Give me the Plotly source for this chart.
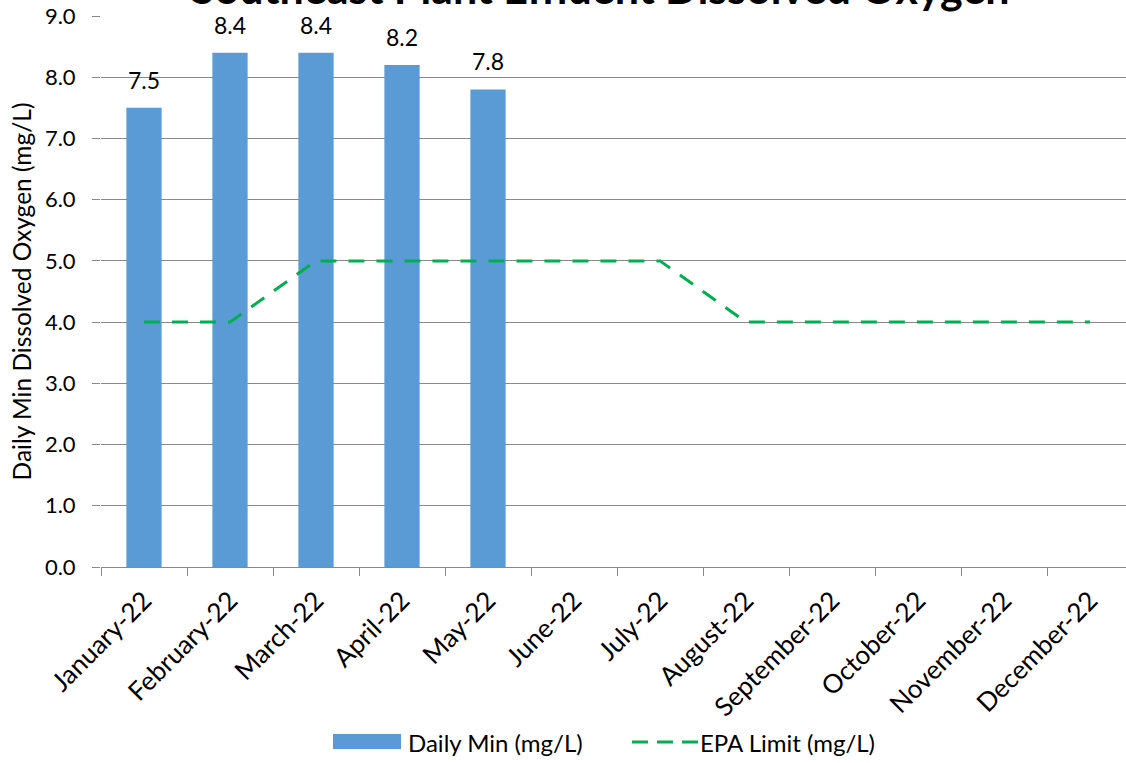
import plotly.graph_objects as go

months = ["January-22", "February-22", "March-22", "April-22", "May-22", "June-22",
          "July-22", "August-22", "September-22", "October-22", "November-22", "December-22"]
daily_min = [7.5, 8.4, 8.4, 8.2, 7.8, None, None, None, None, None, None, None]
epa_limit = [4.0, 4.0, 5.0, 5.0, 5.0, 5.0, 5.0, 4.0, 4.0, 4.0, 4.0, 4.0]

title_text = "Southeast Plant Effluent Dissolved Oxygen"
y_title = "Daily Min Dissolved Oxygen (mg/L)"
y_ticks = [0, 1, 2, 3, 4, 5, 6, 7, 8, 9]

FONT = "Lato, 'Open Sans', sans-serif"
BAR_COLOR = "#5B9BD5"
LINE_COLOR = "#00B050"
GRID = "#898989"

W, H = 1126, 763
L, T, B = 101, 16, 196
plot_w = W - L
plot_h = H - T - B
cat_px = 86.0


def px_x(px):
    return (px - L) / plot_w


def px_y(py):
    return (H - B - py) / plot_h


fig = go.Figure()

fig.add_trace(go.Bar(
    x=months, y=daily_min, name="Daily Min (mg/L)",
    marker=dict(color=BAR_COLOR, line=dict(width=0)),
    width=0.41, showlegend=False,
))

fig.add_trace(go.Scatter(
    x=months, y=epa_limit, name="EPA Limit (mg/L)", mode="lines",
    line=dict(color=LINE_COLOR, width=3, dash="16px,12px"),
    showlegend=False,
))

# value labels above each bar
for m, v in zip(months, daily_min):
    if v is None:
        continue
    fig.add_annotation(x=m, y=v, xref="x", yref="y", text=f"{v:.1f}",
                       showarrow=False, xanchor="center", yanchor="bottom",
                       yshift=13, borderpad=0,
                       font=dict(family=FONT, size=23, color="#000000"))

# legend drawn by hand so the swatches keep their wide shape
fig.add_shape(type="rect", xref="paper", yref="paper",
              x0=px_x(333), x1=px_x(401), y0=px_y(749), y1=px_y(734),
              fillcolor=BAR_COLOR, line=dict(width=0))
fig.add_shape(type="line", xref="paper", yref="paper",
              x0=px_x(632), x1=px_x(700), y0=px_y(742), y1=px_y(742),
              line=dict(color=LINE_COLOR, width=3, dash="16px,9px"))
fig.add_annotation(text="Daily Min (mg/L)", xref="paper", yref="paper",
                   x=px_x(406), y=px_y(742), xanchor="left", yanchor="middle",
                   showarrow=False, font=dict(family=FONT, size=24, color="#000000"))
fig.add_annotation(text="EPA Limit (mg/L)", xref="paper", yref="paper",
                   x=px_x(698), y=px_y(742), xanchor="left", yanchor="middle",
                   showarrow=False, font=dict(family=FONT, size=24, color="#000000"))

# chart title, sitting above the plot area
fig.add_annotation(text="<b>" + title_text + "</b>", xref="paper", yref="paper",
                   x=px_x(600), y=px_y(14), xanchor="center", yanchor="bottom",
                   showarrow=False, borderpad=0,
                   font=dict(family=FONT, size=43, color="#000000"))

fig.update_layout(
    width=W, height=H,
    margin=dict(l=L, r=0, t=T, b=B, pad=0),
    paper_bgcolor="white", plot_bgcolor="white",
    font=dict(family=FONT, size=20, color="#000000"),
)

fig.update_xaxes(
    type="category", categoryorder="array", categoryarray=months,
    range=[-0.5, -0.5 + plot_w / cat_px],
    tickson="boundaries", ticks="outside", ticklen=8, tickcolor=GRID, tickwidth=1,
    showline=True, linecolor=GRID, linewidth=1,
    showgrid=False, tickangle=-45, ticklabelstandoff=7,
    tickfont=dict(family=FONT, size=26, color="#000000"),
)

fig.update_yaxes(
    range=[0, 9], tickvals=y_ticks, tickformat=".1f",
    ticks="outside", ticklen=8, tickcolor=GRID, tickwidth=1,
    showline=False, showgrid=True, gridcolor=GRID, gridwidth=1, zeroline=False,
    ticklabelstandoff=12,
    tickfont=dict(family=FONT, size=22, color="#000000"),
    title=dict(text=y_title, font=dict(family=FONT, size=24.5, color="#000000"), standoff=6),
)

fig.write_html("out.html")
